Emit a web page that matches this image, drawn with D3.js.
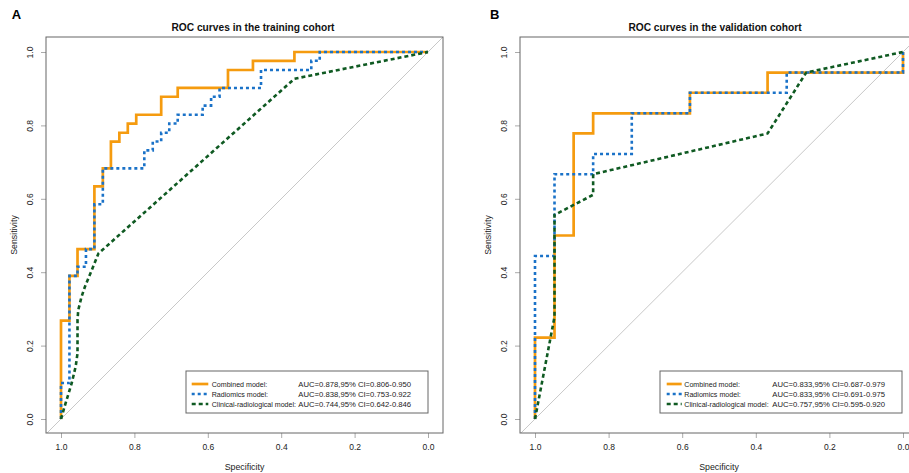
<!DOCTYPE html>
<html>
<head>
<meta charset="utf-8">
<script src="https://d3js.org/d3.v7.min.js"></script>
<style>
  body { margin: 0; background: #fff; }
  svg { font-family: "Liberation Sans", Arial, sans-serif; display: block; }
</style>
</head>
<body>
<script>
// ROC points as [specificity, sensitivity]
var trainCombined = [[1,0],[1,0.268],[0.977,0.268],[0.977,0.390],[0.955,0.390],[0.955,0.463],[0.909,0.463],[0.909,0.634],
    [0.886,0.634],[0.886,0.683],[0.864,0.683],[0.864,0.756],[0.841,0.756],[0.841,0.780],[0.818,0.780],[0.818,0.805],
    [0.795,0.805],[0.795,0.829],[0.727,0.829],[0.727,0.878],[0.682,0.878],[0.682,0.902],[0.545,0.902],[0.545,0.951],
    [0.477,0.951],[0.477,0.976],[0.364,0.976],[0.364,1],[0,1]];
var trainRadiomics = [[1,0],[1,0.098],[0.977,0.098],[0.977,0.390],[0.955,0.390],[0.955,0.415],[0.932,0.415],[0.932,0.463],
    [0.909,0.463],[0.909,0.585],[0.886,0.585],[0.886,0.683],[0.773,0.683],[0.773,0.732],[0.750,0.732],[0.750,0.756],
    [0.727,0.756],[0.727,0.780],[0.705,0.780],[0.705,0.805],[0.682,0.805],[0.682,0.829],[0.614,0.829],[0.614,0.854],
    [0.591,0.854],[0.591,0.878],[0.568,0.878],[0.568,0.902],[0.455,0.902],[0.455,0.951],[0.318,0.951],[0.318,0.976],
    [0.295,0.976],[0.295,1],[0,1]];
var trainClinical = [[1,0],[0.989,0.038],[0.971,0.097],[0.960,0.143],[0.955,0.179],[0.955,0.270],[0.953,0.297],
    [0.944,0.333],[0.935,0.360],[0.916,0.406],[0.898,0.451],[0.364,0.927],[0,1]];

var validCombined = [[1,0],[1,0.222],[0.947,0.222],[0.947,0.5],[0.895,0.5],[0.895,0.778],[0.842,0.778],[0.842,0.833],
    [0.579,0.833],[0.579,0.889],[0.368,0.889],[0.368,0.944],[0,0.944],[0,1]];
var validRadiomics = [[1,0],[1,0.444],[0.947,0.444],[0.947,0.667],[0.842,0.667],[0.842,0.722],[0.737,0.722],[0.737,0.833],
    [0.579,0.833],[0.579,0.889],[0.316,0.889],[0.316,0.944],[0,0.944],[0,1]];
var validClinical = [[1,0],[0.947,0.278],[0.947,0.556],[0.842,0.611],[0.842,0.667],[0.368,0.778],[0.263,0.944],[0,1]];

var modelNames = ['Combined model:', 'Radiomics model:', 'Clinical-radiological model:'];
var trainAUC = ['AUC=0.878,95% CI=0.806-0.950', 'AUC=0.838,95% CI=0.753-0.922', 'AUC=0.744,95% CI=0.642-0.846'];
var validAUC = ['AUC=0.833,95% CI=0.687-0.979', 'AUC=0.833,95% CI=0.691-0.975', 'AUC=0.757,95% CI=0.595-0.920'];
var tickValues = [1.0, 0.8, 0.6, 0.4, 0.2, 0.0];

var WIDTH = 909;
var HEIGHT = 473;
var COLORS = ['#F59B0F', '#1A72C8', '#0F5A22'];
var DASHES = [null, '3,3', '4,3'];
var WIDTHS = [2.7, 2.6, 2.6];

var svg = d3.select('body').append('svg')
    .attr('width', WIDTH)
    .attr('height', HEIGHT);

function drawPanel(opt){
    var x = d3.scaleLinear().domain([1, 0]).range([opt.x0, opt.x1]);
    var y = d3.scaleLinear().domain([0, 1]).range([419, 52]);
    var boxL = opt.x0 - 15, boxR = boxL + 397, boxT = 37, boxB = 433;
    var g = svg.append('g');

    g.append('text')
        .attr('x', opt.letterX).attr('y', 19.3)
        .attr('font-size', 13).attr('font-weight', 'bold')
        .text(opt.letter);

    g.append('text')
        .attr('x', opt.titleX).attr('y', 30.5)
        .attr('text-anchor', 'middle')
        .attr('font-size', 10.2).attr('font-weight', 'bold')
        .attr('fill', '#111')
        .text(opt.title);

    var clipId = 'clip' + opt.letter;
    g.append('clipPath').attr('id', clipId)
        .append('rect').attr('x', boxL).attr('y', boxT).attr('width', boxR - boxL).attr('height', boxB - boxT);

    // reference diagonal
    g.append('line')
        .attr('clip-path', 'url(#' + clipId + ')')
        .attr('x1', x(1 + 0.1)).attr('y1', y(-0.1))
        .attr('x2', x(-0.1)).attr('y2', y(1.1))
        .attr('stroke', '#c8c8c8').attr('stroke-width', 1);

    var line = d3.line()
        .x(function(d){ return x(d[0]); })
        .y(function(d){ return y(d[1]); });

    opt.curves.forEach(function(c, i){
        g.append('path')
            .datum(c)
            .attr('d', line)
            .attr('fill', 'none')
            .attr('stroke', COLORS[i])
            .attr('stroke-width', WIDTHS[i])
            .attr('stroke-dasharray', DASHES[i]);
    });

    // axes
    var xAxis = g.append('g')
        .attr('transform', 'translate(0,' + boxB + ')')
        .call(d3.axisBottom(x).tickValues(tickValues).tickSize(5).tickPadding(6).tickFormat(d3.format('.1f')));
    var yAxis = g.append('g')
        .attr('transform', 'translate(' + boxL + ',0)')
        .call(d3.axisLeft(y).tickValues(tickValues).tickSize(5).tickPadding(0).tickFormat(d3.format('.1f')));
    [xAxis, yAxis].forEach(function(a){
        a.select('.domain').remove();
        a.selectAll('.tick line').attr('stroke', '#aaa');
        a.selectAll('.tick text').attr('fill', '#222').attr('font-size', 8.5)
            .attr('font-family', '"Liberation Sans", Arial, sans-serif');
    });
    yAxis.selectAll('.tick text')
        .attr('x', 0).attr('dy', null)
        .attr('text-anchor', 'middle')
        .attr('transform', 'translate(-13,0) rotate(-90)');

    g.append('rect')
        .attr('x', boxL).attr('y', boxT)
        .attr('width', boxR - boxL).attr('height', boxB - boxT)
        .attr('fill', 'none').attr('stroke', '#666').attr('stroke-width', 1);

    g.append('text')
        .attr('x', (opt.x0 + opt.x1) / 2).attr('y', 470)
        .attr('text-anchor', 'middle').attr('font-size', 8.8).attr('fill', '#222')
        .text('Specificity');
    g.append('text')
        .attr('transform', 'translate(' + (boxL - 29) + ',' + ((boxT + boxB) / 2) + ') rotate(-90)')
        .attr('text-anchor', 'middle').attr('font-size', 8.8).attr('fill', '#222')
        .text('Sensitivity');

    // legend
    var lg = g.append('g');
    lg.append('rect')
        .attr('x', opt.legX).attr('y', 371)
        .attr('width', opt.legW).attr('height', 42)
        .attr('fill', '#fff').attr('stroke', '#666').attr('stroke-width', 1);
    modelNames.forEach(function(name, i){
        var ly = 384 + i * 10;
        lg.append('line')
            .attr('x1', opt.legX + opt.lineX0).attr('x2', opt.legX + opt.lineX1)
            .attr('y1', ly).attr('y2', ly)
            .attr('stroke', COLORS[i]).attr('stroke-width', WIDTHS[i])
            .attr('stroke-dasharray', DASHES[i]);
        lg.append('text')
            .attr('x', opt.legX + opt.textX).attr('y', ly + 2.7)
            .attr('font-size', 7.1).attr('fill', '#222')
            .text(name);
        lg.append('text')
            .attr('x', opt.legX + opt.aucX).attr('y', ly + 2.7)
            .attr('font-size', 7.7).attr('fill', '#222')
            .text(opt.auc[i]);
    });
}

drawPanel({
    letter: 'A', letterX: 11.7, title: 'ROC curves in the training cohort', titleX: 253,
    x0: 61, x1: 428, curves: [trainCombined, trainRadiomics, trainClinical], auc: trainAUC,
    legX: 186, legW: 242, lineX0: 5.7, lineX1: 22.3, textX: 25.7, aucX: 112.3
});
drawPanel({
    letter: 'B', letterX: 490, title: 'ROC curves in the validation cohort', titleX: 715,
    x0: 535, x1: 903, curves: [validCombined, validRadiomics, validClinical], auc: validAUC,
    legX: 660, legW: 242, lineX0: 6.7, lineX1: 21.7, textX: 24.3, aucX: 112.3
});
</script>
</body>
</html>
